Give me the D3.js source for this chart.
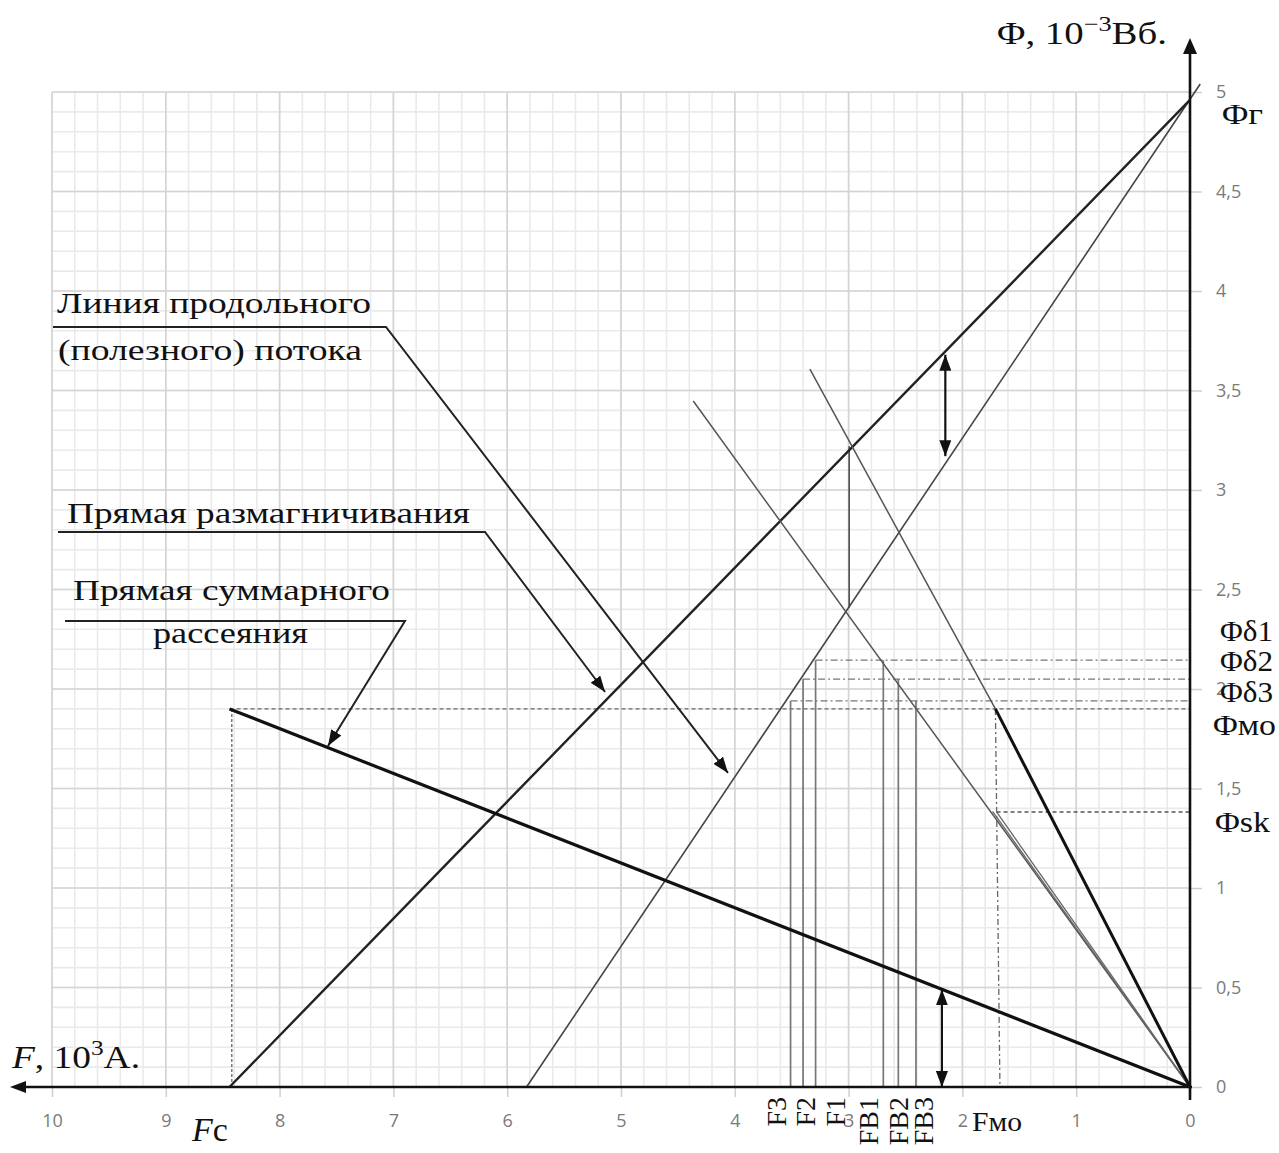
<!DOCTYPE html>
<html><head><meta charset="utf-8">
<script src="https://cdn.jsdelivr.net/npm/d3@7"></script>
<style>body{margin:0;background:#fff} svg{display:block}</style>
</head><body>
<svg id="chart" width="1279" height="1153"></svg>
<script>
// ---------- data (F in 10^3 A, Φ in 10^-3 Wb) ----------
const xTickValues = [0, 1, 2, 3, 4, 5, 6, 7, 8, 9, 10];
const yTickValues = [0, 0.5, 1, 1.5, 2, 2.5, 3, 3.5, 4, 4.5, 5];
const Fc = 8.44;
const PhiR = 4.96;
const PhiMo = 1.90;
const FMo = 1.71;
const FMoBottom = 1.67;
const PhiSk = 1.382;
const FSk = 1.70;
const demagLine = [[Fc, 0], [0, PhiR]];
const usefulLine = [[5.83, 0], [-0.09, 5.04]];
const leakageLine = [[Fc, PhiMo], [0, 0]];
const rayD = [[4.365, 3.447], [0, 0]];
const rayE = [[3.34, 3.607], [FMo, PhiMo]];
const workingLine = [[FMo, PhiMo], [0, 0]];
const skRays = [[[FSk, PhiSk], [0, 0]], [[1.735, 1.385], [0, 0]]];
const midVertical = [[2.995, 2.41], [2.995, 3.22]];
const Fnames = ["F1", "F2", "F3"];
const Fvalues = [3.29, 3.40, 3.51];
const FBnames = ["FB1", "FB2", "FB3"];
const FBvalues = [2.695, 2.563, 2.408];
const PhiDelta = [2.145, 2.05, 1.94];
const PhiDeltaNames = ["Φδ1", "Φδ2", "Φδ3"];
const topArrow = [[2.15, 3.68], [2.15, 3.17]];
const bottomArrow = [[2.18, 0.49], [2.18, 0.0]];
const callout1Text = ["Линия продольного", "(полезного) потока"];
const callout1Tip = [4.06, 1.578];
const callout2Text = ["Прямая размагничивания"];
const callout2Tip = [5.14, 1.985];
const callout3Text = ["Прямая суммарного", "рассеяния"];
const callout3Tip = [7.575, 1.714];

// ---------- layout ----------
const svg = d3.select("#chart");
const x = d3.scaleLinear().domain([0, 10]).range([1190, 52]);
const y = d3.scaleLinear().domain([0, 5]).range([1087, 92]);
const serif = "'Liberation Serif', 'Times New Roman', serif";

const defs = svg.append("defs");
defs.append("marker").attr("id", "ah").attr("viewBox", "0 0 16 12")
  .attr("refX", 16).attr("refY", 6).attr("markerWidth", 16).attr("markerHeight", 12)
  .attr("markerUnits", "userSpaceOnUse").attr("orient", "auto-start-reverse")
  .append("path").attr("d", "M0,0 L16,6 L0,12 Z").attr("fill", "#111");

// grid
const g = svg.append("g");
g.selectAll(".vminor").data(d3.range(0, 50.5, 1).map(i => i * 0.2)).enter().append("line")
  .attr("x1", d => x(d)).attr("x2", d => x(d)).attr("y1", y(0)).attr("y2", y(5))
  .attr("stroke", "#eaeaea").attr("stroke-width", 1.6);
g.selectAll(".hminor").data(d3.range(0, 50.5, 1).map(i => i * 0.1)).enter().append("line")
  .attr("y1", d => y(d)).attr("y2", d => y(d)).attr("x1", x(10)).attr("x2", x(0))
  .attr("stroke", "#eaeaea").attr("stroke-width", 1.6);
g.selectAll(".vmajor").data(xTickValues).enter().append("line")
  .attr("x1", d => x(d)).attr("x2", d => x(d)).attr("y1", y(0)).attr("y2", y(5))
  .attr("stroke", "#d4d4d4").attr("stroke-width", 1.6);
g.selectAll(".hmajor").data(yTickValues).enter().append("line")
  .attr("y1", d => y(d)).attr("y2", d => y(d)).attr("x1", x(10)).attr("x2", x(0))
  .attr("stroke", "#d4d4d4").attr("stroke-width", 1.6);

// axes ticks via d3.axis
const fmt = d => String(d).replace(".", ",");
const xAxis = svg.append("g").attr("transform", `translate(0,${y(0)})`)
  .call(d3.axisBottom(x).tickValues(xTickValues).tickFormat(fmt).tickSize(10).tickPadding(17));
const yAxis = svg.append("g").attr("transform", `translate(${x(0)},0)`)
  .call(d3.axisRight(y).tickValues(yTickValues).tickFormat(fmt).tickSize(12).tickPadding(14));
[xAxis, yAxis].forEach(a => {
  a.select(".domain").remove();
  a.selectAll(".tick line").attr("stroke", "#cfcfcf").attr("stroke-width", 1.5);
  a.selectAll(".tick text").attr("fill", "#7a7a7a").attr("font-family", "'Open Sans', sans-serif")
    .attr("font-size", 18);
});

const line = d3.line().x(d => x(d[0])).y(d => y(d[1]));
function path(data, w, color, dash) {
  const p = svg.append("path").attr("d", line(data)).attr("fill", "none")
    .attr("stroke", color).attr("stroke-width", w);
  if (dash) p.attr("stroke-dasharray", dash);
  return p;
}

// dashed helper lines
path([[Fc, PhiMo], [0, PhiMo]], 1.3, "#666", "4,3");
path([[Fc - 0.02, 0], [Fc - 0.02, PhiMo]], 1.3, "#666", "3,2");
path([[FSk, PhiSk], [0, PhiSk]], 1.3, "#555", "4,3");
path([[FMo, PhiMo], [FMoBottom, 0]], 1.3, "#666", "6,3,2,3");
PhiDelta.forEach((p, i) => path([[Fvalues[i], p], [0, p]], 1.3, "#777", "7,3,2,3"));

// vertical construction lines
Fvalues.forEach((f, i) => path([[f, 0], [f, PhiDelta[i]]], 1.7, "#777"));
FBvalues.forEach((f, i) => path([[f, 0], [f, PhiDelta[i]]], 1.7, "#777"));
path(midVertical, 1.5, "#444");

// main lines
path(usefulLine, 1.6, "#444");
path(demagLine, 2.4, "#222");
path(rayD, 1.5, "#555");
skRays.forEach(r => path(r, 1.3, "#666"));
path(rayE, 1.5, "#555");
path(workingLine, 3, "#111");
path(leakageLine, 3.2, "#111");

// axes lines with arrows
svg.append("line").attr("x1", x(0)).attr("x2", x(0)).attr("y1", 1100).attr("y2", 52)
  .attr("stroke", "#111").attr("stroke-width", 2.6);
svg.append("path").attr("d", `M${x(0)},38 L${x(0) - 7},54 L${x(0) + 7},54 Z`).attr("fill", "#111");
svg.append("line").attr("x1", x(0) + 2).attr("x2", 24).attr("y1", y(0)).attr("y2", y(0))
  .attr("stroke", "#111").attr("stroke-width", 2.6);
svg.append("path").attr("d", `M10,${y(0)} L26,${y(0) - 6} L26,${y(0) + 6} Z`).attr("fill", "#111");

// double arrows
path(topArrow, 2.2, "#111").attr("marker-start", "url(#ah)").attr("marker-end", "url(#ah)");
path(bottomArrow, 2.2, "#111").attr("marker-start", "url(#ah)").attr("marker-end", "url(#ah)");

// callouts
function txt(t, xx, yy, size, len, anchor) {
  const e = svg.append("text").attr("x", xx).attr("y", yy).attr("font-family", serif)
    .attr("font-size", size).attr("fill", "#111").attr("text-anchor", anchor || "start").text(t);
  if (len) e.attr("textLength", len).attr("lengthAdjust", "spacingAndGlyphs");
  return e;
}
txt(callout1Text[0], 57, 313, 30, 314);
txt(callout1Text[1], 58, 360, 30, 304);
svg.append("path").attr("d", `M53,327 L386,327 L${x(callout1Tip[0])},${y(callout1Tip[1])}`)
  .attr("fill", "none").attr("stroke", "#222").attr("stroke-width", 2).attr("marker-end", "url(#ah)");
txt(callout2Text[0], 67, 523, 30, 403);
svg.append("path").attr("d", `M58,532 L485,532 L${x(callout2Tip[0])},${y(callout2Tip[1])}`)
  .attr("fill", "none").attr("stroke", "#222").attr("stroke-width", 2).attr("marker-end", "url(#ah)");
txt(callout3Text[0], 73, 600, 30, 317);
txt(callout3Text[1], 153, 643, 30, 155);
svg.append("path").attr("d", `M65,621 L405,621 L${x(callout3Tip[0])},${y(callout3Tip[1])}`)
  .attr("fill", "none").attr("stroke", "#222").attr("stroke-width", 2).attr("marker-end", "url(#ah)");

// axis titles
const t1 = svg.append("text").attr("x", 997).attr("y", 44).attr("font-family", serif).attr("font-size", 31)
  .attr("fill", "#111").attr("textLength", 170).attr("lengthAdjust", "spacingAndGlyphs");
t1.append("tspan").text("Φ, 10");
t1.append("tspan").attr("dy", -13).attr("font-size", 21).text("−3");
t1.append("tspan").attr("dy", 13).text("Вб.");
const t2 = svg.append("text").attr("x", 12).attr("y", 1068).attr("font-family", serif).attr("font-size", 31)
  .attr("fill", "#111").attr("textLength", 128).attr("lengthAdjust", "spacingAndGlyphs");
t2.append("tspan").attr("font-style", "italic").text("F");
t2.append("tspan").text(", 10");
t2.append("tspan").attr("dy", -13).attr("font-size", 21).text("3");
t2.append("tspan").attr("dy", 13).text("A.");

// right-hand labels
txt("Φг", 1222, 124, 30, 41);
PhiDeltaNames.forEach((n, i) => txt(n, 1220, [641, 671, 702][i], 30, 53));
txt("Φмо", 1213, 735, 30, 63);
txt("Φsk", 1215, 832, 30, 55);

// bottom labels
const fc = svg.append("text").attr("x", 192).attr("y", 1141).attr("font-family", serif).attr("font-size", 34).attr("fill", "#111");
fc.append("tspan").attr("font-style", "italic").text("F");
fc.append("tspan").text("c");
txt("Fмо", 972, 1131, 28, 50);
const rotNames = Fnames.concat(FBnames);
const rotVals = Fvalues.concat(FBvalues);
const rotOffsets = [20, 2, -14, -15, 0, 8];
rotNames.forEach((n, i) => {
  svg.append("text").attr("transform", `translate(${x(rotVals[i]) + rotOffsets[i]},1097) rotate(-90)`)
    .attr("text-anchor", "end").attr("dominant-baseline", "central")
    .attr("font-family", serif).attr("font-size", 28).attr("fill", "#111").text(n);
});
</script>
</body></html>
